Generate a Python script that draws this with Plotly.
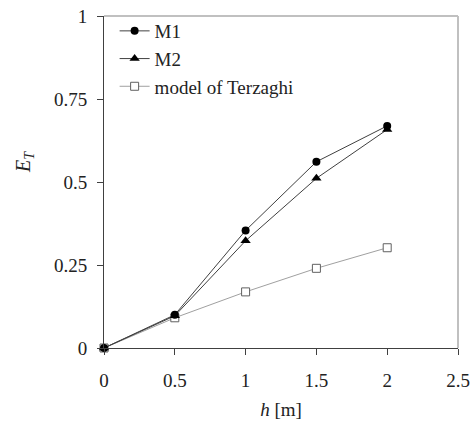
import plotly.graph_objects as go

h = [0, 0.5, 1, 1.5, 2]
m1 = [0.0, 0.100, 0.354, 0.561, 0.669]
m2 = [0.0, 0.097, 0.323, 0.511, 0.658]
terzaghi = [0.0, 0.091, 0.169, 0.240, 0.302]

x_ticks = [0, 0.5, 1, 1.5, 2, 2.5]
x_tick_text = ["0", "0.5", "1", "1.5", "2", "2.5"]
y_ticks = [0, 0.25, 0.5, 0.75, 1]
y_tick_text = ["0", "0.25", "0.5", "0.75", "1"]

font = "Liberation Serif"
fsize = 19

fig = go.Figure()
fig.add_trace(go.Scatter(
    x=h, y=terzaghi, name="model of Terzaghi", mode="lines+markers",
    cliponaxis=False,
    line=dict(color="#a0a0a0", width=1),
    marker=dict(symbol="square", size=8, color="white",
                line=dict(color="#606060", width=1)),
))
fig.add_trace(go.Scatter(
    x=h, y=m2, name="M2", mode="lines+markers",
    cliponaxis=False,
    line=dict(color="#404040", width=1),
    marker=dict(symbol="triangle-up", size=9, color="black"),
))
fig.add_trace(go.Scatter(
    x=h, y=m1, name="M1", mode="lines+markers",
    cliponaxis=False,
    line=dict(color="#404040", width=1),
    marker=dict(symbol="circle", size=8, color="black"),
))

# light frame on the top and right sides of the plotting area
fig.add_shape(type="line", xref="paper", yref="paper", x0=0, x1=1, y0=1, y1=1,
              line=dict(color="#c0c0c0", width=2), layer="below")
fig.add_shape(type="line", xref="paper", yref="paper", x0=1, x1=1, y0=0, y1=1,
              line=dict(color="#c0c0c0", width=2), layer="below")

# vertical axis title, set slightly above the middle of the axis
fig.add_annotation(
    text="<i>E<sub>T</sub></i>", textangle=-90, showarrow=False,
    xref="paper", yref="paper", x=-0.226, y=0.56,
    xanchor="center", yanchor="middle",
    font=dict(family=font, size=fsize + 1, color="#222222"),
)

fig.update_layout(
    width=473, height=428,
    margin=dict(l=104, r=15, t=14, b=80),
    paper_bgcolor="white", plot_bgcolor="white",
    font=dict(family=font, size=fsize, color="#222222"),
    showlegend=True,
    legend=dict(
        x=0.03, y=1.012, xanchor="left", yanchor="top",
        traceorder="reversed", bgcolor="rgba(0,0,0,0)",
        font=dict(family=font, size=fsize, color="#222222"),
        itemwidth=30, tracegroupgap=0,
    ),
    xaxis=dict(
        range=[0, 2.5], tickvals=x_ticks, ticktext=x_tick_text,
        showgrid=False, zeroline=False, automargin=False,
        showline=True, linecolor="#404040", linewidth=1,
        ticks="outside", ticklen=6, tickcolor="#404040",
        ticklabelstandoff=9,
        tickfont=dict(family=font, size=fsize),
        title=dict(text="<i>h</i> [m]", font=dict(family=font, size=fsize), standoff=12),
    ),
    yaxis=dict(
        range=[0, 1], tickvals=y_ticks, ticktext=y_tick_text,
        showgrid=False, zeroline=False, automargin=False,
        showline=True, linecolor="#404040", linewidth=1,
        ticks="outside", ticklen=6, tickcolor="#404040",
        ticklabelstandoff=6,
        tickfont=dict(family=font, size=fsize),
    ),
)

fig.write_html("out.html")
